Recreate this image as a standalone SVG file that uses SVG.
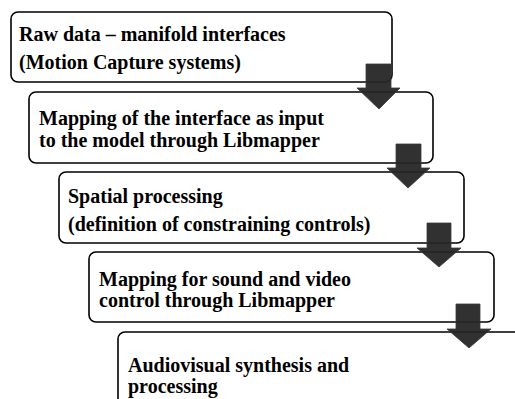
<svg xmlns="http://www.w3.org/2000/svg" width="515" height="399" viewBox="0 0 515 399">
  <defs>
    <style>
      .box { fill: #ffffff; stroke: #000000; stroke-width: 1.6; }
      .lbl { font-family: "Liberation Serif", "Times New Roman", serif; font-weight: bold; font-size: 20px; fill: #000000; }
      .arrow { fill: #262626; fill-opacity: 0.95; stroke: #3a3a3a; stroke-width: 0.8; }
    </style>
  </defs>
  <rect width="515" height="399" fill="#ffffff"/>

  <g id="node-raw-data">
    <rect class="box" x="11" y="12" width="381" height="70" rx="7"/>
    <text class="lbl" x="19" y="41">Raw data – manifold interfaces</text>
    <text class="lbl" x="19" y="69">(Motion Capture systems)</text>
  </g>

  <g id="node-input-mapping">
    <rect class="box" x="29" y="92" width="404" height="71" rx="7"/>
    <text class="lbl" x="39" y="125">Mapping of the interface as input</text>
    <text class="lbl" x="39" y="147">to the model through Libmapper</text>
  </g>

  <g id="node-spatial">
    <rect class="box" x="59" y="172" width="405" height="71" rx="7"/>
    <text class="lbl" x="68" y="203">Spatial processing</text>
    <text class="lbl" x="68" y="231">(definition of constraining controls)</text>
  </g>

  <g id="node-output-mapping">
    <rect class="box" x="89" y="252" width="405" height="70" rx="7"/>
    <text class="lbl" x="99" y="286">Mapping for sound and video</text>
    <text class="lbl" x="99" y="307">control through Libmapper</text>
  </g>

  <g id="node-synthesis">
    <rect class="box" x="118" y="332" width="430" height="100" rx="7"/>
    <text class="lbl" x="128" y="372">Audiovisual synthesis and</text>
    <text class="lbl" x="128" y="393">processing</text>
  </g>

  <g id="connectors">
    <polygon class="arrow" points="366,64 391,64 391,88 400,88 379,109 357,88 366,88"/>
    <polygon class="arrow" points="396,144 421,144 421,168 430,168 408,188 387,168 396,168"/>
    <polygon class="arrow" points="427,223 451,223 451,248 461,248 439,267 417,248 427,248"/>
    <polygon class="arrow" points="456,304 480,304 480,329 491,329 469,348 447,329 456,329"/>
  </g>
</svg>
